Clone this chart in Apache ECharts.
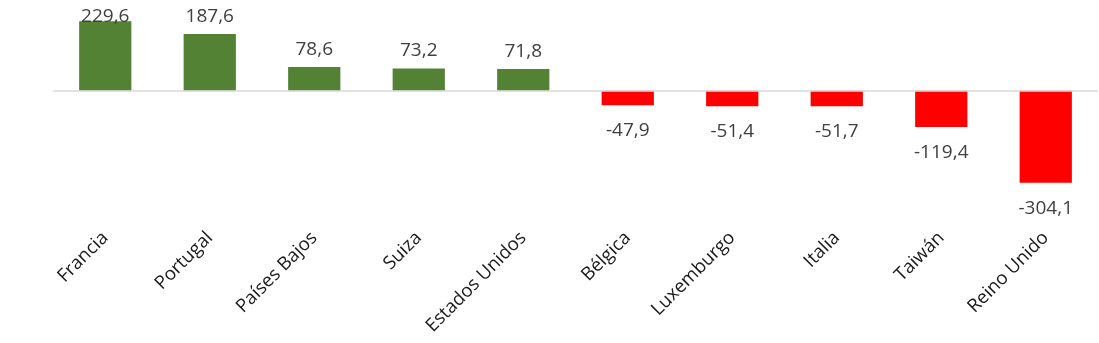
<!DOCTYPE html>
<html>
<head>
<meta charset="utf-8">
<script src="https://cdn.jsdelivr.net/npm/echarts@6/dist/echarts.min.js"></script>
<style>
  html, body { margin: 0; padding: 0; background: #fff; }
  #chart { width: 1099px; height: 343px; }
</style>
</head>
<body>
<div id="chart"></div>
<script>
// Saldo por país (valores positivos en verde, negativos en rojo)
const categories = ['Francia', 'Portugal', 'Países Bajos', 'Suiza', 'Estados Unidos',
                    'Bélgica', 'Luxemburgo', 'Italia', 'Taiwán', 'Reino Unido'];
const values = [229.6, 187.6, 78.6, 73.2, 71.8, -47.9, -51.4, -51.7, -119.4, -304.1];

const GREEN = '#548235';
const RED = '#ff0000';
const FONT = '"Open Sans", "Noto Sans", sans-serif';

const fmt = v => v.toFixed(1).replace('.', ',');

const barData = values.map((v, i) => {
  const item = {
    value: v,
    itemStyle: { color: v < 0 ? RED : GREEN },
    label: { position: v < 0 ? 'bottom' : 'top', distance: v < 0 ? 16 : 8 }
  };
  // the tallest bar's label sits tight against the top edge
  if (i === 0) item.label.distance = -5;
  return item;
});

const chart = echarts.init(document.getElementById('chart'), null, { renderer: 'canvas' });
chart.setOption({
  animation: false,
  backgroundColor: '#fff',
  grid: { left: 53, right: 1, top: 15, bottom: 116, containLabel: false },
  xAxis: {
    type: 'category',
    data: categories,
    axisLine: { show: false, onZero: false },
    axisTick: { show: false },
    axisLabel: {
      rotate: 45,
      interval: 0,
      margin: 8,
      color: '#1a1a1a',
      fontFamily: FONT,
      fontSize: 18.5
    },
    splitLine: { show: false }
  },
  yAxis: {
    type: 'value',
    min: -450,
    max: 250,
    show: false,
    splitLine: { show: false }
  },
  series: [{
    type: 'bar',
    data: barData,
    barWidth: '50%',
    label: {
      show: true,
      color: '#404040',
      fontFamily: FONT,
      fontSize: 19,
      formatter: p => fmt(p.value)
    },
    markLine: {
      silent: true,
      symbol: 'none',
      label: { show: false },
      lineStyle: { color: '#d9d9d9', width: 1.5, type: 'solid' },
      data: [{ yAxis: 0 }]
    },
    z: 3
  }]
});
</script>
</body>
</html>
